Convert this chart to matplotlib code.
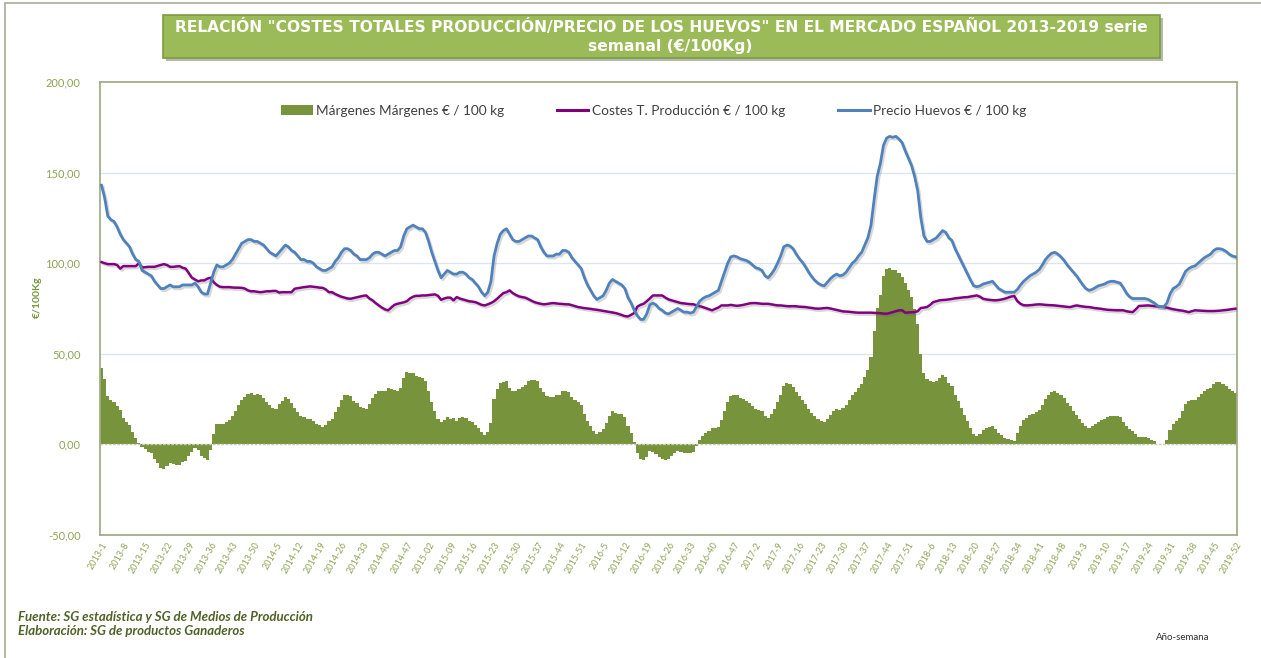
import numpy as np
import matplotlib
matplotlib.use("Agg")
import matplotlib.pyplot as plt
from matplotlib import patheffects as pe
from matplotlib.patches import Rectangle, Patch
from matplotlib.lines import Line2D

plt.rcParams['font.family'] = ['Lato', 'DejaVu Sans']

# semanas por año (2015 tiene 53)
anios = [2013, 2014, 2015, 2016, 2017, 2018, 2019]
semanas_por_anio = [52, 52, 53, 52, 52, 52, 52]

# Precio huevos €/100 kg, serie semanal
precio_2013 = [143, 136, 126, 124, 123, 120, 116, 113, 111, 109,
               105, 102, 101, 96, 95, 94, 93, 90, 88, 86,
               86, 87, 88, 87, 87, 87, 88, 88, 88, 88,
               89, 87, 84, 83, 83, 89, 95, 99, 98, 98,
               99, 100, 102, 105, 108, 111, 112, 113, 113, 112,
               112, 111]
precio_2014 = [110, 108, 106, 105, 104, 106, 108, 110, 109, 107,
               106, 104, 102, 102, 101, 101, 100, 98, 97, 96,
               96, 97, 98, 101, 103, 106, 108, 108, 107, 105,
               104, 102, 102, 102, 103, 105, 106, 106, 105, 104,
               105, 106, 107, 107, 109, 115, 119, 120, 121, 120,
               119, 119]
precio_2015 = [117, 112, 106, 101, 96, 92, 94, 96, 95, 94,
               94, 95, 95, 94, 92, 91, 89, 87, 84, 82,
               84, 90, 104, 111, 116, 118, 119, 116, 113, 112,
               112, 113, 114, 115, 115, 114, 113, 109, 106, 104,
               104, 104, 105, 105, 107, 107, 106, 103, 101, 99,
               97, 92, 88]
precio_2016 = [85, 82, 80, 81, 82, 85, 89, 91, 90, 89,
               88, 86, 81, 78, 74, 71, 69, 69, 72, 77,
               78, 77, 75, 74, 72.5, 72, 73, 74, 75, 74,
               73, 73, 72.5, 73, 76, 79, 80.5, 81.5, 82, 83,
               84, 85, 90, 95, 100, 103.5, 104, 103.5, 102.5, 102,
               101.5, 100.5]
precio_2017 = [99, 97.5, 97, 96, 93, 92, 94, 96.5, 100, 104,
               109, 110, 109.5, 108, 105, 102.5, 100.5, 98, 95, 92.5,
               90.5, 89, 88, 87.5, 89.5, 91.5, 93, 94, 93, 93.5,
               95, 97.5, 100, 101.5, 104, 106, 110, 114, 121, 135,
               148, 155, 165, 169, 170, 169.5, 170, 168.5, 166.5, 162,
               158, 154]
precio_2018 = [148, 140, 125, 115, 112, 112, 113, 114, 116, 118,
               117, 114, 112.5, 108, 104.5, 101, 97.5, 94, 90.5, 87.5,
               87, 87.5, 88.5, 89, 89.5, 90, 88, 86, 85, 84,
               84, 84, 84, 85.5, 88, 90, 91.5, 93, 94, 95,
               96.5, 99, 102, 104, 105.5, 106, 105, 103.5, 101.5, 99,
               97, 95]
precio_2019 = [93, 90.5, 88, 86, 85, 85.5, 86.5, 87.5, 88, 88.5,
               89.5, 90, 90, 89.5, 89, 86.5, 83.5, 81.5, 80.5, 80.5,
               80.5, 80.5, 80.5, 80, 79, 78, 76.5, 76, 76, 78,
               83, 86, 87, 88.5, 92, 95.5, 97, 98, 98.5, 100,
               101.5, 103, 104, 105, 107, 108, 108, 107.5, 106.5, 105,
               104, 103.5]

# Costes totales de producción €/100 kg
costes_2013 = [100.6, 100.0, 99.5, 99.5, 99.5, 99.0, 97.0, 98.4, 98.4, 98.4,
               98.4, 98.4, 100.0, 97.6, 97.8, 98.0, 98.0, 98.0, 98.5, 99.0,
               99.5, 99.0, 98.0, 98.0, 98.2, 98.4, 97.5, 97.0, 94.5, 92.0,
               91.0, 90.0, 90.5, 90.5, 91.5, 92.0, 89.5, 88.0, 87.0, 86.8,
               86.8, 86.8, 86.6, 86.5, 86.5, 86.4, 86.0, 85.0, 84.5, 84.5,
               84.2, 84.0]
costes_2014 = [84.2, 84.5, 84.5, 84.7, 84.7, 83.8, 84.0, 84.0, 84.0, 84.0,
               85.9, 86.2, 86.5, 86.8, 87.0, 87.2, 87.0, 86.8, 86.5, 86.4,
               85.5, 84.0, 84.0, 83.0, 82.2, 81.5, 81.0, 80.5, 80.4, 80.8,
               81.2, 81.6, 82.0, 82.2, 80.5, 79.5, 78.0, 76.7, 75.5, 74.5,
               74.0, 75.5, 77.0, 77.6, 78.0, 78.4, 79.0, 80.5, 81.5, 82.0,
               82.0, 82.2]
costes_2015 = [82.2, 82.4, 82.6, 82.8, 82.0, 79.8, 80.5, 81.0, 81.0, 79.5,
               81.3, 80.5, 80.0, 79.5, 79.0, 78.8, 78.5, 77.8, 77.0, 76.7,
               77.3, 78.0, 79.0, 80.4, 82.0, 83.5, 84.0, 85.0, 83.5, 82.5,
               81.7, 81.3, 81.0, 80.2, 79.3, 78.5, 78.0, 77.6, 77.3, 77.5,
               77.8, 78.0, 77.8, 77.6, 77.5, 77.3, 77.3, 76.8, 76.3, 75.8,
               75.5, 75.2, 75.0]
costes_2016 = [74.8, 74.5, 74.3, 74.0, 73.7, 73.4, 73.1, 72.8, 72.5, 72.0,
               71.4, 70.8, 70.6, 71.5, 72.5, 76.0, 77.0, 77.6, 79.0, 80.5,
               82.2, 82.2, 82.2, 82.2, 81.0, 80.0, 79.5, 79.0, 78.5, 78.0,
               77.8, 77.6, 77.4, 77.3, 76.8, 76.3, 75.8, 75.2, 74.6, 74.0,
               74.8, 75.5, 76.7, 76.7, 76.7, 77.0, 76.7, 76.5, 76.7, 77.0,
               77.4, 77.8]
costes_2017 = [78.0, 78.0, 77.8, 77.6, 77.6, 77.6, 77.3, 77.0, 76.7, 76.7,
               76.5, 76.3, 76.2, 76.3, 76.2, 76.0, 75.9, 75.8, 75.5, 75.3,
               75.0, 74.9, 75.0, 75.2, 75.3, 75.0, 74.6, 74.2, 73.8, 73.4,
               73.3, 73.2, 73.0, 72.8, 72.7, 72.7, 72.7, 72.7, 72.7, 72.6,
               72.5, 72.4, 72.2, 72.1, 72.5, 73.0, 73.5, 74.0, 74.0, 72.7,
               72.8, 72.9]
costes_2018 = [73.0, 73.5, 75.3, 75.5, 75.8, 77.0, 78.5, 79.0, 79.5, 79.7,
               79.8, 80.0, 80.3, 80.6, 80.8, 81.0, 81.2, 81.3, 81.6, 81.9,
               82.2, 81.5, 80.4, 80.0, 79.8, 79.6, 79.5, 79.7, 80.0, 80.4,
               81.0, 81.6, 81.9, 79.0, 77.6, 76.8, 76.7, 76.8, 77.0, 77.2,
               77.3, 77.2, 77.0, 76.9, 76.8, 76.7, 76.5, 76.3, 76.1, 75.9,
               75.8, 76.3]
costes_2019 = [76.7, 76.4, 76.1, 75.9, 75.8, 75.5, 75.2, 75.0, 74.8, 74.5,
               74.3, 74.2, 74.1, 74.0, 74.0, 74.0, 73.5, 73.2, 73.0, 74.5,
               76.4, 76.5, 76.6, 76.7, 76.5, 76.3, 76.1, 76.0, 75.8, 75.5,
               75.0, 74.6, 74.3, 74.0, 73.8, 73.4, 73.0, 73.5, 74.0, 73.9,
               73.8, 73.7, 73.6, 73.6, 73.6, 73.7, 73.8, 74.0, 74.2, 74.4,
               74.7, 74.9]

etiquetas_x = ['2013-1', '2013-8', '2013-15', '2013-22', '2013-29', '2013-36', '2013-43', '2013-50',
               '2014-5', '2014-12', '2014-19', '2014-26', '2014-33', '2014-40', '2014-47',
               '2015-02', '2015-09', '2015-16', '2015-23', '2015-30', '2015-37', '2015-44', '2015-51',
               '2016-5', '2016-12', '2016-19', '2016-26', '2016-33', '2016-40', '2016-47',
               '2017-2', '2017-9', '2017-16', '2017-23', '2017-30', '2017-37', '2017-44', '2017-51',
               '2018-6', '2018-13', '2018-20', '2018-27', '2018-34', '2018-41', '2018-48',
               '2019-3', '2019-10', '2019-17', '2019-24', '2019-31', '2019-38', '2019-45', '2019-52']

precio = np.array(precio_2013 + precio_2014 + precio_2015 + precio_2016
                  + precio_2017 + precio_2018 + precio_2019, dtype=float)
costes = np.array(costes_2013 + costes_2014 + costes_2015 + costes_2016
                  + costes_2017 + costes_2018 + costes_2019, dtype=float)
margen = precio - costes  # márgenes = precio - costes
x = np.arange(sum(semanas_por_anio))

GREEN = '#77933C'
PURPLE = '#800080'
BLUE = '#4F81BD'
AXIS_TXT = '#8EA556'
SPINE = '#A3AC8A'

fig = plt.figure(figsize=(12.61, 6.58), dpi=100)
ax = fig.add_axes([100 / 1261, 123 / 658, 1137 / 1261, 453 / 658])

shadow = [pe.SimpleLineShadow(offset=(1.2, -1.5), alpha=0.25, shadow_color='#606060'), pe.Normal()]

ax.bar(x, margen, width=1.0, color=GREEN, linewidth=0, zorder=2)
ax.plot(x, costes, color=PURPLE, lw=1.8, zorder=3, path_effects=shadow)
ax.plot(x, precio, color=BLUE, lw=2.0, zorder=4, path_effects=shadow)

ax.set_xlim(-0.5, x[-1] + 0.5)
ax.set_ylim(-50, 200)
ax.set_yticks([-50, 0, 50, 100, 150, 200])
ax.set_yticklabels(['-50,00', '0,00', '50,00', '100,00', '150,00', '200,00'])
for v in [50, 100, 150]:
    ax.axhline(v, color='#DCE6F2', lw=1.0, zorder=1)
ax.axhline(0, color='#C6CCB8', lw=1.0, ls=(0, (2, 1)), zorder=2.5)

ax.set_xticks(np.arange(0, len(x), 7))
ax.set_xticklabels(etiquetas_x, rotation=60, ha='right', va='top',
                   rotation_mode='anchor', fontsize=6.5, color=AXIS_TXT)
ax.tick_params(axis='both', length=0)
ax.tick_params(axis='x', pad=4)
ax.tick_params(axis='y', pad=14, labelsize=8, labelcolor=AXIS_TXT)

for s in ax.spines.values():
    s.set_color(SPINE)
    s.set_linewidth(1.3)

fig.text(37 / 1261, 1 - 297 / 658, '€/100Kg', rotation=90, ha='center', va='center',
         fontsize=7.5, color=GREEN, fontweight='bold')

handles = [Patch(facecolor=GREEN, edgecolor='none'),
           Line2D([], [], color=PURPLE, lw=2.2),
           Line2D([], [], color=BLUE, lw=2.2)]
labels = ['Márgenes Márgenes € / 100 kg', 'Costes T. Producción € / 100 kg',
          'Precio Huevos € / 100 kg']
ax.legend(handles, labels, ncol=3, loc='center', bbox_to_anchor=(0.487, 0.936),
          frameon=False, fontsize=9.8, columnspacing=3.9, handlelength=2.3,
          handletextpad=0.25, labelcolor='#404040')

# titulo en caja verde
fig.patches.append(Rectangle((163 / 1261, 1 - 58 / 658), 997 / 1261, 43 / 658,
                             transform=fig.transFigure, facecolor='#9BBB59',
                             edgecolor='#7E9A43', lw=1.2,
                             path_effects=[pe.withSimplePatchShadow(offset=(2, -2), alpha=0.35)]))
fig.text(661 / 1261, 1 - 27 / 658,
         'RELACIÓN "COSTES TOTALES PRODUCCIÓN/PRECIO DE LOS HUEVOS" EN EL MERCADO ESPAÑOL 2013-2019 serie',
         ha='center', va='center', fontsize=11.2, fontweight='bold', color='white',
         family='DejaVu Sans')
fig.text(670 / 1261, 1 - 46 / 658, 'semanal (€/100Kg)', ha='center', va='center',
         fontsize=11.2, fontweight='bold', color='white', family='DejaVu Sans')

# marco exterior
fig.patches.append(Rectangle((5 / 1261, -0.02), 1.1, 1 - 3 / 658 + 0.02,
                             transform=fig.transFigure, facecolor='none',
                             edgecolor='#A8AE98', lw=1.2))

fig.text(18 / 1261, 1 - 617 / 658, 'Fuente: SG estadística y SG de Medios de Producción',
         ha='left', va='center', fontsize=9.5, style='italic', fontweight='bold', color='#4F6228')
fig.text(18 / 1261, 1 - 631 / 658, 'Elaboración: SG de productos Ganaderos',
         ha='left', va='center', fontsize=9.5, style='italic', fontweight='bold', color='#4F6228')
fig.text(1183 / 1261, 1 - 637 / 658, 'Año-semana', ha='center', va='center',
         fontsize=7, color='#303030')

fig.savefig('out.png', dpi=100, facecolor='white')
